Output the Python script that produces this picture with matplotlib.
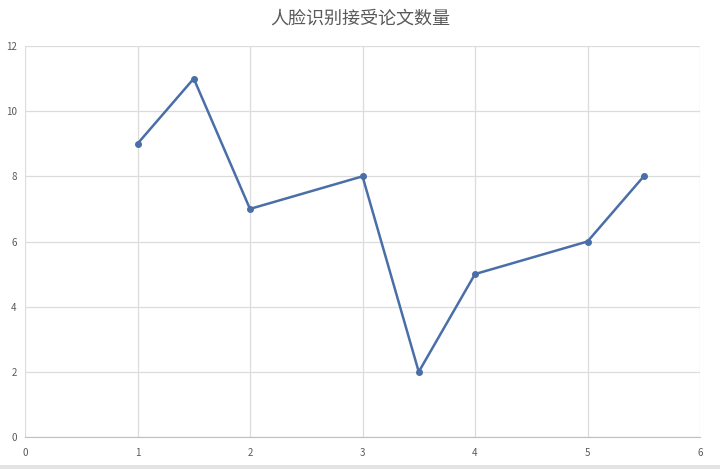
import matplotlib
matplotlib.use("Agg")
import matplotlib.pyplot as plt
from matplotlib.patches import Rectangle

title = "人脸识别接受论文数量"
x_values = [1, 1.5, 2, 3, 3.5, 4, 5, 5.5]
y_values = [9, 11, 7, 8, 2, 5, 6, 8]
x_ticks = [0, 1, 2, 3, 4, 5, 6]
y_ticks = [0, 2, 4, 6, 8, 10, 12]

plt.rcParams['font.family'] = ['Noto Sans CJK SC', 'DejaVu Sans']

fig = plt.figure(figsize=(7.2, 4.69), dpi=100)
ax = fig.add_axes([25/720, 32/469, 675/720, 391/469])

ax.plot(x_values, y_values, color='#4a6ea8', linewidth=1.8, marker='o',
        markersize=4, markerfacecolor='#4a6ea8', markeredgecolor='#4a6ea8', zorder=3)

ax.set_xlim(0, 6)
ax.set_ylim(0, 12)
ax.set_xticks(x_ticks)
ax.set_yticks(y_ticks)
ax.grid(True, color='#dcdcdc', linewidth=0.9)
ax.set_axisbelow(True)
for s in ['top', 'right', 'left']:
    ax.spines[s].set_visible(False)
ax.spines['bottom'].set_color('#bfbfbf')
ax.tick_params(axis='both', length=0, labelsize=7, colors='#595959')
ax.tick_params(axis='x', pad=8)
ax.tick_params(axis='y', pad=6)

fig.text(0.5, 0.96, title, ha='center', va='center', fontsize=13, color='#595959')

# light grey strip along the bottom edge of the screenshot
fig.patches.append(Rectangle((0, 0), 1, 4/469, transform=fig.transFigure,
                             facecolor='#e3e3e3', edgecolor='none'))

fig.savefig("out.png", dpi=100)
